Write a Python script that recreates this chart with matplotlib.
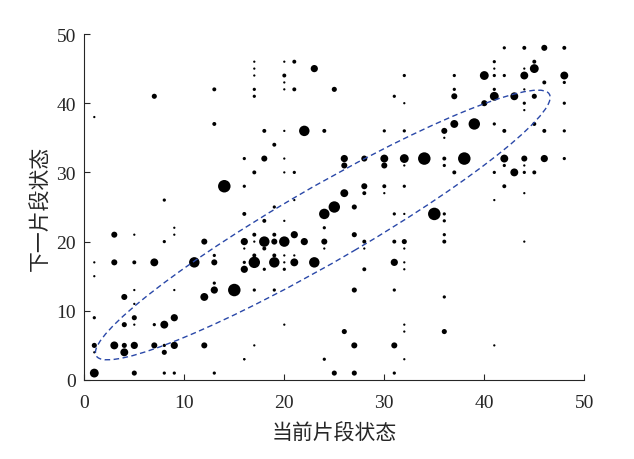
import matplotlib
matplotlib.use("Agg")
import matplotlib.pyplot as plt
from matplotlib.patches import Ellipse

# ---- data: (current state, next state, transition count) ----
x_state = [1, 7, 13, 13,
           17, 17, 17, 17, 17, 20, 21, 23, 20, 20, 20, 21, 25, 32, 31, 32,
           18, 20, 22, 24, 30, 32, 19,
           42, 44, 46, 48, 41, 45, 41, 44, 45, 37, 40, 41, 42, 44, 48, 46, 48,
           37, 41, 44, 37, 41, 43, 45, 40, 44, 44, 48, 37, 39, 41, 45, 36, 42, 46, 48, 36,
           16, 16, 14, 8, 16, 9, 3, 5, 9, 8, 12, 16, 16, 13, 1, 3, 5, 7, 11, 13, 16,
           18, 20, 26, 28, 30, 32, 26, 30, 32, 17, 21, 20, 28, 30, 32, 26, 28, 30, 21,
           19, 25, 27, 24, 31, 32, 18, 20, 24, 17, 19, 21, 27, 17, 18, 19, 20, 22, 24, 28, 31, 32,
           18, 24, 28, 32, 17, 19, 21, 20, 17, 19, 21, 23, 20, 31, 32,
           34, 36, 38, 42, 44, 46, 48, 36, 42, 44, 37, 41, 43, 44, 45, 42, 44, 41, 35, 36, 36, 36, 36, 44,
           16, 1, 13, 5, 9, 13, 15, 4, 12, 5, 1, 5, 9, 4, 5, 7, 8,
           1, 3, 4, 5, 7, 8, 9, 12, 1, 4, 8, 16, 1, 5, 8, 9, 13,
           18, 20, 28, 32, 17, 19, 27, 31, 20, 32, 26, 32, 17, 27, 31, 16, 24, 32, 25, 27, 31,
           36, 36, 41]
y_state = [38, 41, 42, 37,
           46, 45, 44, 42, 41, 46, 46, 45, 44, 43, 42, 42, 42, 44, 41, 40,
           36, 36, 36, 36, 36, 36, 34,
           48, 48, 48, 48, 46, 46, 45, 45, 45, 44, 44, 44, 44, 44, 44, 43, 43,
           42, 42, 42, 41, 41, 41, 41, 40, 40, 39, 40, 37, 37, 37, 37, 36, 36, 36, 36, 35,
           32, 28, 28, 26, 24, 22, 21, 21, 21, 20, 20, 20, 19, 18, 17, 17, 17, 17, 17, 17, 17,
           32, 32, 32, 32, 32, 32, 31, 31, 31, 30, 30, 30, 28, 28, 28, 27, 27, 27, 26,
           25, 25, 25, 24, 24, 24, 23, 23, 22, 21, 21, 21, 21, 20, 20, 20, 20, 20, 20, 20, 20, 20,
           19, 19, 19, 19, 18, 18, 18, 18, 17, 17, 17, 17, 17, 17, 17,
           32, 32, 32, 32, 32, 32, 32, 31, 31, 31, 30, 30, 30, 30, 30, 28, 27, 26, 24, 24, 23, 21, 20, 20,
           16, 15, 14, 13, 13, 13, 13, 12, 12, 11, 9, 9, 9, 8, 8, 8, 8,
           5, 5, 5, 5, 5, 5, 5, 5, 4, 4, 4, 3, 1, 1, 1, 1, 1,
           16, 16, 16, 16, 13, 13, 13, 13, 8, 8, 7, 7, 5, 5, 5, 3, 3, 3, 1, 1, 1,
           12, 7, 5]
counts = [1, 5, 3, 3,
          1, 1, 1, 2, 2, 1, 3, 10, 3, 1, 1, 3, 5, 2, 2, 1,
          3, 1, 21, 3, 2, 2, 3,
          2, 3, 7, 3, 2, 3, 1, 1, 15, 2, 15, 2, 2, 12, 12, 3, 2,
          2, 2, 1, 7, 15, 12, 5, 7, 2, 1, 2, 12, 25, 2, 3, 7, 3, 3, 2, 1,
          2, 2, 30, 2, 3, 1, 7, 1, 1, 2, 7, 10, 1, 2, 1, 7, 3, 12, 21, 7, 2,
          7, 1, 10, 7, 12, 15, 7, 7, 1, 3, 2, 1, 7, 3, 2, 12, 3, 1, 1,
          2, 25, 5, 21, 2, 1, 3, 1, 2, 3, 3, 10, 5, 1, 21, 7, 21, 10, 7, 3, 3, 5,
          3, 1, 1, 1, 3, 3, 1, 1, 25, 21, 12, 21, 1, 10, 1,
          30, 3, 30, 12, 7, 10, 2, 2, 2, 1, 3, 2, 12, 2, 3, 3, 1, 1, 30, 2, 2, 2, 3, 1,
          10, 1, 2, 1, 1, 10, 30, 7, 12, 1, 2, 5, 10, 5, 1, 2, 12,
          5, 12, 5, 10, 7, 2, 10, 7, 1, 12, 5, 1, 15, 5, 2, 2, 2,
          2, 2, 3, 1, 2, 2, 5, 2, 1, 1, 5, 1, 1, 7, 7, 1, 2, 1, 5, 5, 2,
          2, 5, 1]

ticks = [0, 10, 20, 30, 40, 50]
xlabel = "当前片段状态"
ylabel = "下一片段状态"

# ellipse (data coordinates)
ell_center = (23.85, 22.4)
ell_width = 59.1
ell_height = 9.7
ell_angle = 40.35

fig = plt.figure(figsize=(6.34, 4.60), dpi=100)
ax = fig.add_axes([84.3 / 634, 1 - 381 / 460, 500 / 634, 346 / 460])

ax.scatter(x_state, y_state, s=[2.7 * c for c in counts], c="black",
           edgecolors="none", zorder=3)

ax.add_patch(Ellipse(ell_center, ell_width, ell_height, angle=ell_angle,
                     fill=False, edgecolor="#2a48a8", linewidth=1.0,
                     linestyle=(0, (4, 2.5)), zorder=4))

ax.set_xlim(0, 50)
ax.set_ylim(0, 50)
ax.set_xticks(ticks)
ax.set_yticks(ticks)
ax.set_xticklabels([str(t) for t in ticks], fontfamily="Liberation Serif", fontsize=14)
ax.set_yticklabels([str(t) for t in ticks], fontfamily="Liberation Serif", fontsize=14)
ax.tick_params(direction="in", length=4, width=0.8, colors="#262626")
ax.tick_params(axis="x", pad=10)
ax.tick_params(axis="y", pad=6)
for side in ("top", "right"):
    ax.spines[side].set_visible(False)
for side in ("left", "bottom"):
    ax.spines[side].set_color("#262626")
    ax.spines[side].set_linewidth(0.8)

ax.set_xlabel(xlabel, fontfamily=["Noto Sans CJK SC", "DejaVu Sans"], fontsize=15, color="#262626")
ax.set_ylabel(ylabel, fontfamily=["Noto Sans CJK SC", "DejaVu Sans"], fontsize=15, color="#262626")
ax.xaxis.set_label_coords(0.5, -0.120)
ax.yaxis.set_label_coords(-0.066, 0.5)

fig.savefig("out.png", dpi=100)
